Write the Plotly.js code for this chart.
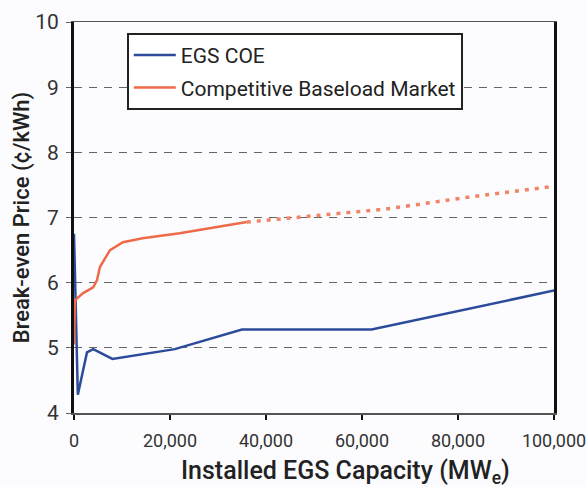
<!DOCTYPE html>
<html>
<head>
<meta charset="utf-8">
<script src="https://cdn.plot.ly/plotly-3.0.1.min.js"></script>
<style>
html,body{margin:0;padding:0;background:#fcfcfe;}
#chart{width:587px;height:487px;}
</style>
</head>
<body>
<div id="chart"></div>
<script>
// EGS levelized cost of electricity
const egsCapacity = [0, 800, 2700, 4000, 8000, 21000, 35000, 62000, 100000];
const egsCOE = [6.75, 4.28, 4.93, 4.98, 4.83, 4.98, 5.28, 5.28, 5.88];

// Competitive baseload market price (solid, known part)
const marketCapacity = [0, 200, 1900, 4000, 4800, 5400, 7500, 10200, 14300, 22000, 36000];
const marketPrice = [5.05, 5.73, 5.84, 5.93, 6.04, 6.24, 6.50, 6.62, 6.68, 6.76, 6.93];

// Competitive baseload market price (dotted, projected part)
const projCapacity = [36000, 50000, 65000, 81000, 100000];
const projPrice = [6.93, 7.03, 7.13, 7.30, 7.48];

const xTicks = [0, 20000, 40000, 60000, 80000, 100000];
const xTickText = ['0', '20,000', '40,000', '60,000', '80,000', '100,000'];
const yTicks = [4, 5, 6, 7, 8, 9, 10];

const blue = '#2d4b9b';
const orange = '#ee6a48';
const font = 'Roboto, "DejaVu Sans", sans-serif';

const traces = [
  {x: egsCapacity, y: egsCOE, type: 'scatter', mode: 'lines', name: 'EGS COE',
   line: {color: blue, width: 2.5}},
  {x: marketCapacity, y: marketPrice, type: 'scatter', mode: 'lines', name: 'Competitive Baseload Market',
   legendgroup: 'market', line: {color: orange, width: 2.5}},
  {x: projCapacity, y: projPrice, type: 'scatter', mode: 'lines', name: 'Competitive Baseload Market (projected)',
   legendgroup: 'market', showlegend: false, line: {color: '#f08466', width: 3.5, dash: '4px,6px'}}
];

const layout = {
  width: 587, height: 487,
  margin: {l: 74, r: 33, t: 22, b: 74},
  paper_bgcolor: '#fcfcfe', plot_bgcolor: '#fcfcfe',
  font: {family: font, color: '#333'},
  showlegend: true,
  legend: {
    x: 0.11, y: 0.972, xanchor: 'left', yanchor: 'top',
    bgcolor: '#ffffff', bordercolor: '#222', borderwidth: 2,
    font: {family: font, size: 21, color: '#222'},
    itemwidth: 42, tracegroupgap: 2
  },
  xaxis: {
    range: [0, 100000],
    tickvals: xTicks, ticktext: xTickText,
    tickfont: {size: 18, color: '#333'},
    ticks: 'outside', ticklen: 5, tickwidth: 2, tickcolor: '#111',
    ticklabelstandoff: 6,
    showline: true, linecolor: '#555', linewidth: 1.5, mirror: true,
    showgrid: false, zeroline: false, fixedrange: true
  },
  yaxis: {
    range: [4, 10],
    tickvals: yTicks,
    tickfont: {size: 21, color: '#333'},
    ticks: 'outside', ticklen: 5, tickwidth: 1, tickcolor: '#666',
    ticklabelstandoff: 3,
    showline: true, linecolor: '#111', linewidth: 3, mirror: true,
    showgrid: true, gridcolor: '#666', gridwidth: 1, griddash: '8px,7px',
    zeroline: false, fixedrange: true,
    title: {text: 'Break-even Price (¢/kWh)', font: {size: 22, color: '#222', weight: 500}, standoff: 0}
  },
  annotations: [{
    text: 'Installed EGS Capacity (MW<sub>e</sub>)',
    xref: 'paper', yref: 'paper', x: 0.565, y: -0.152,
    xanchor: 'center', yanchor: 'middle', showarrow: false,
    font: {family: font, size: 25, color: '#222', weight: 500}
  }]
};

Plotly.newPlot('chart', traces, layout, {displayModeBar: false, staticPlot: true});
</script>
</body>
</html>
